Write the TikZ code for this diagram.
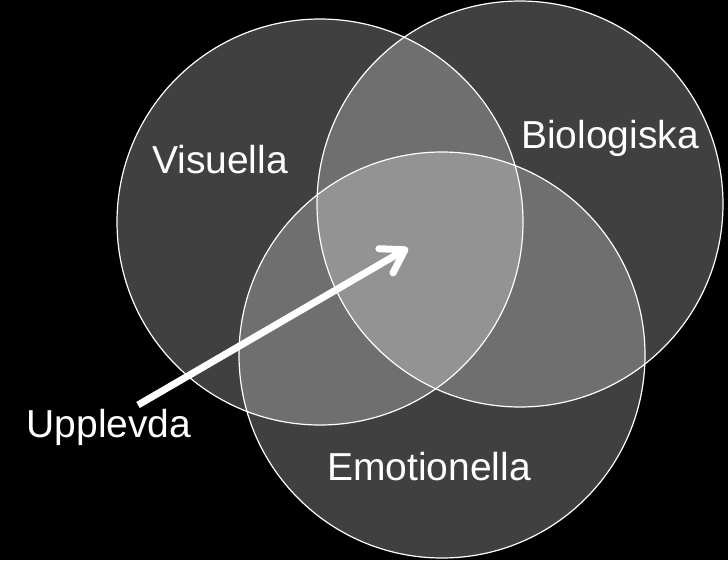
\documentclass[tikz,border=0pt]{standalone}
\usepackage{fontspec}
\setmainfont{Liberation Sans}
\usetikzlibrary{arrows.meta}

\begin{document}
\begin{tikzpicture}[x=1pt,y=-1pt,font=\fontsize{39}{46}\selectfont,
 ring/.style={circle,draw=white,line width=1.2pt,fill=white,fill opacity=0.25,inner sep=0pt,minimum size=406pt},
 lbl/.style={text=white,anchor=base,inner sep=0pt},
 flow/.style={-{Straight Barb[length=22pt,width=28pt,round]},white,line width=7pt}]
\fill[black] (0,0) rectangle (728,560);
\useasboundingbox (0,0) rectangle (728,560);
\node[ring] (vis) at (320,222) {};
\node[ring] (bio) at (520,204) {};
\node[ring] (emo) at (442,355) {};
\node[lbl] (visl) at (220,173) {Visuella};
\node[lbl] (biol) at (610,148) {Biologiska};
\node[lbl] (emol) at (429,480) {Emotionella};
\node[lbl] (upp) at (109,437) {Upplevda};
\coordinate (tail) at (138,405);
\coordinate (aim) at (408,248);
\draw[flow] (tail) -- (aim);
\end{tikzpicture}
\end{document}
